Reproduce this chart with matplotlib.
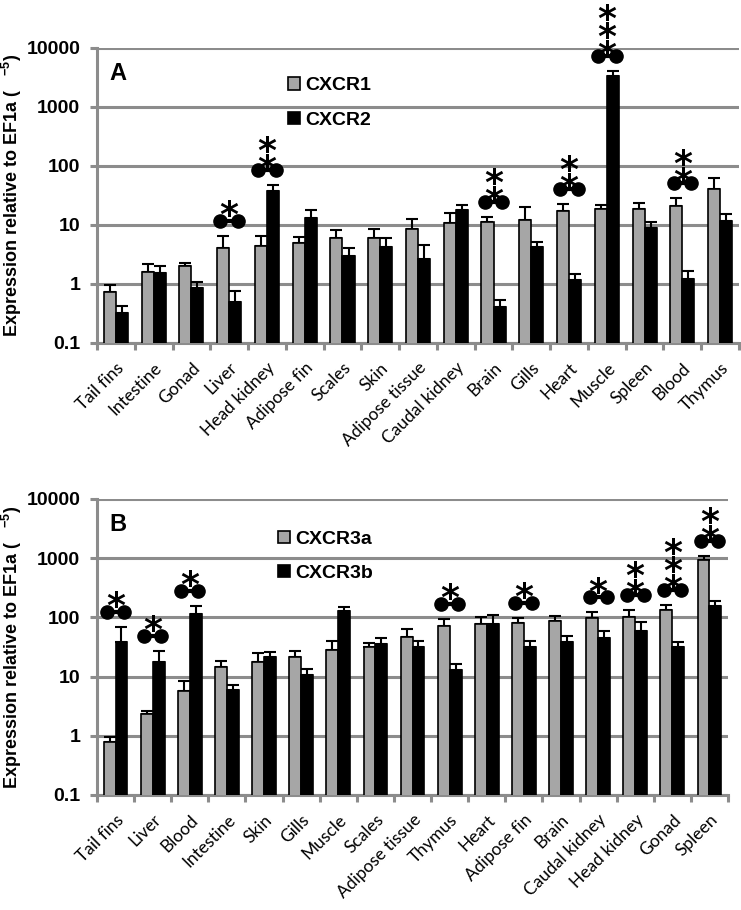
import numpy as np
import matplotlib.pyplot as plt
from matplotlib import transforms
from matplotlib.ticker import NullLocator

plt.rcParams['font.family'] = ['Liberation Sans', 'DejaVu Sans']
plt.rcParams['mathtext.fontset'] = 'custom'
plt.rcParams['mathtext.rm'] = 'Liberation Sans:bold'
plt.rcParams['mathtext.it'] = 'Liberation Sans:bold'

# Panel A: CXCR1 / CXCR2
tissues_a = ["Tail fins", "Intestine", "Gonad", "Liver", "Head kidney", "Adipose fin",
             "Scales", "Skin", "Adipose tissue", "Caudal kidney", "Brain", "Gills",
             "Heart", "Muscle", "Spleen", "Blood", "Thymus"]
cxcr1 = [0.72, 1.62, 2.0, 4.0, 4.4, 4.9, 5.9, 6.0, 8.5, 10.8, 11.2, 12.2, 17.3, 18.7, 18.7, 21.0, 40.5]
cxcr1_err = [0.24, 0.55, 0.3, 2.5, 2.0, 1.4, 2.3, 2.6, 4.1, 5.2, 2.4, 7.8, 5.3, 3.1, 4.8, 7.6, 22.5]
cxcr2 = [0.32, 1.55, 0.85, 0.5, 37.4, 13.0, 3.0, 4.2, 2.65, 18.0, 0.4, 4.2, 1.17, 3350, 8.9, 1.2, 11.7]
cxcr2_err = [0.1, 0.45, 0.25, 0.25, 10.6, 4.7, 1.0, 1.8, 1.95, 3.8, 0.13, 1.0, 0.31, 720, 2.3, 0.46, 3.6]
stars_a = [0, 0, 0, 1, 2, 0, 0, 0, 0, 0, 2, 0, 2, 3, 0, 2, 0]

# Panel B: CXCR3a / CXCR3b
tissues_b = ["Tail fins", "Liver", "Blood", "Intestine", "Skin", "Gills", "Muscle", "Scales",
             "Adipose tissue", "Thymus", "Heart", "Adipose fin", "Brain", "Caudal kidney",
             "Head kidney", "Gonad", "Spleen"]
cxcr3a = [0.78, 2.3, 5.8, 14.7, 17.9, 21.2, 28, 32, 47, 72, 77, 81, 87, 97, 103, 132, 935]
cxcr3a_err = [0.17, 0.3, 2.7, 3.6, 6.9, 5.5, 12, 5, 17, 22, 23, 18, 20, 25, 30, 30, 155]
cxcr3b = [39, 17.5, 114, 5.9, 21.7, 10.6, 128, 35, 31, 12.9, 77, 32, 39, 44, 59, 31, 156]
cxcr3b_err = [31, 9.5, 44, 1.3, 4.6, 2.7, 22, 10, 9, 3.2, 32, 8, 9, 15, 24, 7, 35]
stars_b = [1, 1, 1, 0, 0, 0, 0, 0, 0, 1, 0, 1, 0, 1, 2, 3, 2]

yticks = [0.1, 1, 10, 100, 1000, 10000]
ytick_labels = ["0.1", "1", "10", "100", "1000", "10000"]

grid_col = '#8c8c8c'
bar_gray = '#a6a6a6'

fig = plt.figure(figsize=(7.41, 9.10), dpi=100)


def offset(ax, dy):
    return transforms.offset_copy(ax.transData, fig=fig, x=0, y=dy, units='dots')


def draw_panel(ax, cats, v1, e1, v2, e2, stars, names, letter, leg_xy, ylab_x):
    n = len(cats)
    x = np.arange(n)
    w = 0.32
    ax.set_yscale('log')
    b1 = ax.bar(x - w / 2, v1, w, color=bar_gray, edgecolor='black', linewidth=1.2, zorder=3)
    b2 = ax.bar(x + w / 2, v2, w, color='black', edgecolor='black', linewidth=1.2, zorder=3)
    ax.errorbar(x - w / 2, v1, yerr=[np.zeros(n), e1], fmt='none', ecolor='black',
                elinewidth=1.5, capsize=4, capthick=1.5, zorder=2)
    ax.errorbar(x + w / 2, v2, yerr=[np.zeros(n), e2], fmt='none', ecolor='black',
                elinewidth=1.5, capsize=4, capthick=1.5, zorder=2)

    # significance: dumbbell plus asterisks above the highest error bar
    tops = np.maximum(np.array(v1) + np.array(e1), np.array(v2) + np.array(e2))
    star_fs = 26
    star_shift = 0.59 * star_fs * 100 / 72
    for i, k in enumerate(stars):
        if k == 0:
            continue
        ax.plot([i - 0.23, i + 0.23], [tops[i], tops[i]], '-o', color='black', ms=9.5, lw=3,
                transform=offset(ax, 15), clip_on=False, zorder=5)
        for j in range(k):
            dy = 15 + (16 if k == 1 else 11 + 18 * j) - star_shift
            ax.text(i, tops[i], '*', transform=offset(ax, dy), ha='center', va='baseline',
                    fontsize=star_fs, family='DejaVu Sans', fontweight='bold',
                    clip_on=False, zorder=6)

    ax.set_ylim(0.1, 10000)
    ax.set_xlim(-0.5, n - 0.5)
    ax.set_yticks(yticks)
    ax.set_yticklabels(ytick_labels, fontsize=14, fontweight='bold')
    ax.yaxis.set_minor_locator(NullLocator())
    ax.set_xticks(x)
    ax.set_xticklabels(cats, rotation=45, ha='right', rotation_mode='anchor',
                       fontfamily='Lato', fontsize=12.5)
    ax.set_xticks(np.arange(-0.5, n, 1), minor=True)
    ax.tick_params(axis='x', which='major', length=0, pad=12)
    ax.tick_params(axis='x', which='minor', length=5, width=2.2, color=grid_col)
    ax.tick_params(axis='y', which='major', length=5, width=2.2, color=grid_col, pad=7)
    ax.yaxis.grid(True, color=grid_col, lw=2.2)
    ax.set_axisbelow(True)
    for s in ['top', 'right']:
        ax.spines[s].set_visible(False)
    for s in ['left', 'bottom']:
        ax.spines[s].set_color(grid_col)
        ax.spines[s].set_linewidth(2.2)

    ax.set_ylabel("Expression relative to EF1a (   $^{-5}$)", fontsize=13,
                  fontweight='bold', va='center')
    ax.yaxis.set_label_coords(ylab_x, 0.5)
    ax.text(0.02, 0.915, letter, transform=ax.transAxes, fontsize=17, fontweight='bold',
            va='center', ha='left')
    ax.legend([b1, b2], names, loc='center left', bbox_to_anchor=leg_xy, frameon=False,
              prop=dict(weight='bold', size=14), handlelength=0.6, handleheight=0.6,
              handletextpad=0.3, labelspacing=0.9, borderpad=0, borderaxespad=0)


ax1 = fig.add_axes([0.1309, 0.6231, 0.8664, 0.3242])
draw_panel(ax1, tissues_a, cxcr1, cxcr1_err, cxcr2, cxcr2_err, stars_a,
           ["CXCR1", "CXCR2"], "A", (0.2975, 0.8136), -0.1324)

ax2 = fig.add_axes([0.1309, 0.1264, 0.8516, 0.3253])
draw_panel(ax2, tissues_b, cxcr3a, cxcr3a_err, cxcr3b, cxcr3b_err, stars_b,
           ["CXCR3a", "CXCR3b"], "B", (0.287, 0.806), -0.1347)

fig.savefig('out.png', dpi=100)
